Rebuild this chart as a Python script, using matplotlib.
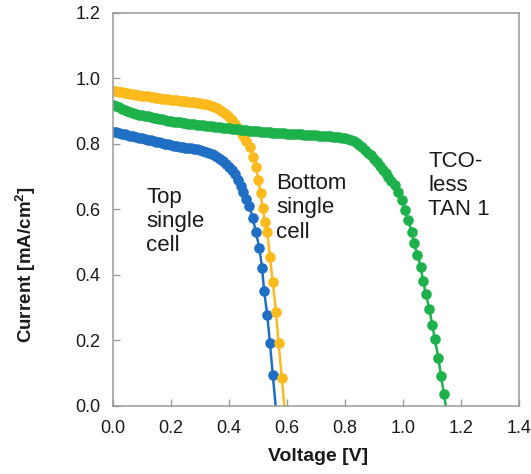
import matplotlib
matplotlib.use('Agg')
import matplotlib.pyplot as plt

plt.rcParams['font.family'] = ['Liberation Sans', 'DejaVu Sans']
plt.rcParams['mathtext.fontset'] = 'custom'
plt.rcParams['mathtext.rm'] = 'Liberation Sans'
plt.rcParams['mathtext.bf'] = 'Liberation Sans:bold'
plt.rcParams['xtick.direction'] = 'in'
plt.rcParams['ytick.direction'] = 'in'

# top single cell
top_v = [0.00, 0.01, 0.02, 0.03, 0.04, 0.05, 0.06, 0.07, 0.08, 0.09,
         0.10, 0.11, 0.12, 0.13, 0.14, 0.15, 0.16, 0.17, 0.18, 0.19,
         0.20, 0.21, 0.22, 0.23, 0.24, 0.25, 0.26, 0.27, 0.28, 0.29,
         0.30, 0.31, 0.32, 0.33, 0.34, 0.35, 0.36, 0.37, 0.38, 0.39,
         0.40, 0.41, 0.42, 0.43, 0.44, 0.45, 0.46, 0.47,
         0.482, 0.493, 0.505, 0.514, 0.521, 0.532, 0.541, 0.551, 0.564]
top_i = [0.838, 0.836, 0.834, 0.832, 0.830, 0.827, 0.825, 0.823, 0.821, 0.819,
         0.817, 0.815, 0.813, 0.811, 0.809, 0.807, 0.805, 0.803, 0.801, 0.799,
         0.797, 0.795, 0.794, 0.792, 0.791, 0.789, 0.788, 0.787, 0.785, 0.784,
         0.782, 0.779, 0.777, 0.774, 0.770, 0.766, 0.761, 0.755, 0.748, 0.740,
         0.731, 0.720, 0.707, 0.691, 0.673, 0.653, 0.633, 0.612,
         0.573, 0.530, 0.481, 0.422, 0.352, 0.278, 0.193, 0.095, -0.03]

# bottom single cell
bot_v = [0.00, 0.01, 0.02, 0.03, 0.04, 0.05, 0.06, 0.07, 0.08, 0.09,
         0.10, 0.11, 0.12, 0.13, 0.14, 0.15, 0.16, 0.17, 0.18, 0.19,
         0.20, 0.21, 0.22, 0.23, 0.24, 0.25, 0.26, 0.27, 0.28, 0.29,
         0.30, 0.31, 0.32, 0.33, 0.34, 0.35, 0.36, 0.37, 0.38, 0.39,
         0.40, 0.41, 0.42, 0.43, 0.44, 0.45, 0.46,
         0.472, 0.484, 0.493, 0.501, 0.509, 0.516, 0.524, 0.532, 0.541,
         0.551, 0.562, 0.571, 0.582, 0.594]
bot_i = [0.962, 0.961, 0.959, 0.958, 0.956, 0.955, 0.953, 0.952, 0.950, 0.949,
         0.947, 0.946, 0.945, 0.943, 0.942, 0.941, 0.940, 0.938, 0.937, 0.936,
         0.935, 0.934, 0.933, 0.932, 0.931, 0.930, 0.929, 0.928, 0.927, 0.926,
         0.925, 0.923, 0.921, 0.919, 0.916, 0.913, 0.909, 0.904, 0.898, 0.891,
         0.883, 0.873, 0.862, 0.850, 0.837, 0.823, 0.808,
         0.792, 0.761, 0.731, 0.690, 0.649, 0.604, 0.563, 0.532, 0.456,
         0.378, 0.287, 0.192, 0.085, -0.03]

# TCO-less TAN 1
tan_v = [0.00, 0.01, 0.02, 0.03, 0.04, 0.05, 0.06, 0.07, 0.08, 0.09,
         0.10, 0.11, 0.12, 0.13, 0.14, 0.15, 0.16, 0.17, 0.18, 0.19,
         0.20, 0.21, 0.22, 0.23, 0.24, 0.25, 0.26, 0.27, 0.28, 0.29,
         0.30, 0.31, 0.32, 0.33, 0.34, 0.35, 0.36, 0.37, 0.38, 0.39,
         0.40, 0.41, 0.42, 0.43, 0.44, 0.45, 0.46, 0.47, 0.48, 0.49,
         0.50, 0.51, 0.52, 0.53, 0.54, 0.55, 0.56, 0.57, 0.58, 0.59,
         0.60, 0.61, 0.62, 0.63, 0.64, 0.65, 0.66, 0.67, 0.68, 0.69,
         0.70, 0.71, 0.72, 0.73, 0.74, 0.75, 0.76, 0.77, 0.78, 0.79,
         0.80, 0.81, 0.82, 0.83, 0.84, 0.85, 0.86, 0.87, 0.88, 0.89,
         0.90, 0.91, 0.92, 0.93, 0.94, 0.95, 0.96,
         0.972, 0.984, 0.995, 1.007, 1.018, 1.030, 1.038, 1.050, 1.061,
         1.069, 1.079, 1.091, 1.101, 1.110, 1.122, 1.131, 1.141, 1.153]
tan_i = [0.920, 0.916, 0.912, 0.908, 0.905, 0.901, 0.898, 0.895, 0.892, 0.890,
         0.888, 0.886, 0.884, 0.882, 0.880, 0.878, 0.876, 0.875, 0.873, 0.871,
         0.870, 0.868, 0.867, 0.866, 0.864, 0.863, 0.862, 0.861, 0.860, 0.859,
         0.858, 0.857, 0.856, 0.855, 0.854, 0.853, 0.852, 0.851, 0.850, 0.849,
         0.848, 0.847, 0.846, 0.845, 0.844, 0.843, 0.842, 0.841, 0.840, 0.839,
         0.839, 0.838, 0.837, 0.836, 0.836, 0.835, 0.834, 0.834, 0.833, 0.833,
         0.832, 0.831, 0.831, 0.830, 0.829, 0.829, 0.828, 0.828, 0.827, 0.827,
         0.826, 0.825, 0.825, 0.824, 0.823, 0.823, 0.822, 0.821, 0.820, 0.819,
         0.818, 0.816, 0.813, 0.809, 0.804, 0.798, 0.791, 0.783, 0.774, 0.765,
         0.755, 0.745, 0.734, 0.722, 0.711, 0.700, 0.688,
         0.674, 0.654, 0.629, 0.598, 0.568, 0.532, 0.497, 0.461, 0.425,
         0.383, 0.342, 0.295, 0.247, 0.204, 0.146, 0.092, 0.037, -0.03]

x_ticks = [0.0, 0.2, 0.4, 0.6, 0.8, 1.0, 1.2, 1.4]
y_ticks = [0.0, 0.2, 0.4, 0.6, 0.8, 1.0, 1.2]

fig = plt.figure(figsize=(5.31, 4.74), dpi=100)
ax = fig.add_axes([0.2128, 0.1435, 0.7646, 0.8291])

ax.plot(top_v, top_i, '-o', color='#1F6FC4', lw=1.8, ms=7.6, mew=0)
ax.plot(bot_v, bot_i, '-o', color='#FDBA1C', lw=1.8, ms=7.6, mew=0)
ax.plot(tan_v, tan_i, '-o', color='#1DB14B', lw=1.8, ms=7.6, mew=0)

ax.set_xlim(0, 1.4)
ax.set_ylim(0, 1.2)
ax.set_xticks(x_ticks)
ax.set_yticks(y_ticks)
ax.set_xticklabels(['%.1f' % t for t in x_ticks])
ax.set_yticklabels(['%.1f' % t for t in y_ticks])
ax.tick_params(axis='both', labelsize=13, length=5, width=1, color='#9a9a9a',
               labelcolor='#1a1a1a')
ax.tick_params(axis='x', pad=10)
ax.tick_params(axis='y', pad=9)
for s in ax.spines.values():
    s.set_color('#9a9a9a')
    s.set_linewidth(1.1)

ax.set_xlabel('Voltage [V]', fontsize=14, fontweight='bold', color='#1a1a1a')
ax.set_ylabel('Current [mA/cm$^{\\mathbf{2}}$]', fontsize=13.5, fontweight='bold',
              color='#1a1a1a')
ax.xaxis.set_label_coords(0.504, -0.108)
ax.yaxis.set_label_coords(-0.185, 0.36)

ax.text(0.114, 0.669, 'Top\nsingle\ncell', fontsize=16, va='top', ha='left',
        linespacing=1.2, color='#1a1a1a')
ax.text(0.562, 0.711, 'Bottom\nsingle\ncell', fontsize=16, va='top', ha='left',
        linespacing=1.2, color='#1a1a1a')
ax.text(1.087, 0.779, 'TCO-\nless\nTAN 1', fontsize=16, va='top', ha='left',
        linespacing=1.2, color='#1a1a1a')

fig.savefig('out.png', dpi=100)
